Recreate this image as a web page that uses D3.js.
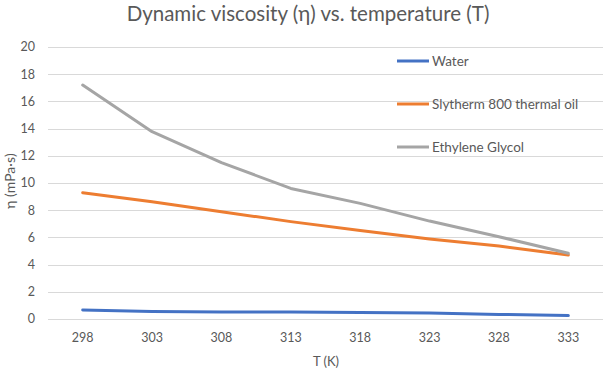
<!DOCTYPE html>
<html>
<head>
<meta charset="utf-8">
<script src="https://cdn.jsdelivr.net/npm/d3@7"></script>
<style>
  body { margin: 0; background: #fff; }
  text { font-family: Lato, "Open Sans", sans-serif; fill: #595959; }
</style>
</head>
<body>
<div id="chart"></div>
<script>
var temps = [298, 303, 308, 313, 318, 323, 328, 333];
var water = [0.66, 0.56, 0.51, 0.52, 0.47, 0.44, 0.34, 0.25];
var slytherm = [9.29, 8.62, 7.89, 7.16, 6.5, 5.88, 5.37, 4.7];
var glycol = [17.2, 13.77, 11.5, 9.6, 8.5, 7.2, 6.05, 4.83];
var yTicks = [0, 2, 4, 6, 8, 10, 12, 14, 16, 18, 20];

var series = [
  {name: "Water", values: water, color: "#4472C4"},
  {name: "Slytherm 800 thermal oil", values: slytherm, color: "#ED7D31"},
  {name: "Ethylene Glycol", values: glycol, color: "#A5A5A5"}
];

var width = 606, height = 371;
var margin = {top: 47, right: 3, bottom: 52, left: 48};
var w = width - margin.left - margin.right,
    h = height - margin.top - margin.bottom;

var svg = d3.select("#chart").append("svg")
    .attr("width", width)
    .attr("height", height);

var g = svg.append("g")
    .attr("transform", "translate(" + margin.left + "," + margin.top + ")");

var x = d3.scaleBand()
    .domain(temps)
    .range([0, w]);

var y = d3.scaleLinear()
    .domain([0, 20])
    .range([h, 0]);

// gridlines
g.append("g")
    .selectAll("line")
    .data(yTicks)
    .enter().append("line")
    .attr("x1", 0)
    .attr("x2", w)
    .attr("y1", function(d) { return Math.round(y(d)) + 0.5; })
    .attr("y2", function(d) { return Math.round(y(d)) + 0.5; })
    .attr("stroke", "#d9d9d9")
    .attr("stroke-width", 1);

// y labels
g.append("g")
    .selectAll("text")
    .data(yTicks)
    .enter().append("text")
    .attr("x", -13)
    .attr("y", function(d) { return y(d); })
    .attr("dy", "0.35em")
    .attr("text-anchor", "end")
    .style("font-size", "12.5px")
    .text(function(d) { return d; });

// x labels
g.append("g")
    .selectAll("text")
    .data(temps)
    .enter().append("text")
    .attr("x", function(d) { return x(d) + x.bandwidth() / 2; })
    .attr("y", h + 19)
    .attr("dy", "0.35em")
    .attr("text-anchor", "middle")
    .style("font-size", "12.5px")
    .text(function(d) { return d; });

var line = d3.line()
    .x(function(d, i) { return x(temps[i]) + x.bandwidth() / 2; })
    .y(function(d) { return y(d); });

g.append("g")
    .selectAll("path")
    .data(series)
    .enter().append("path")
    .attr("d", function(s) { return line(s.values); })
    .attr("fill", "none")
    .attr("stroke", function(s) { return s.color; })
    .attr("stroke-width", 3)
    .attr("stroke-linejoin", "round")
    .attr("stroke-linecap", "round");

// legend
var legend = svg.append("g")
    .selectAll("g")
    .data(series)
    .enter().append("g")
    .attr("transform", function(d, i) { return "translate(397," + (61 + i * 43) + ")"; });

legend.append("line")
    .attr("x1", 0)
    .attr("x2", 32)
    .attr("stroke", function(d) { return d.color; })
    .attr("stroke-width", 3);

legend.append("text")
    .attr("x", 35)
    .attr("dy", "0.35em")
    .style("font-size", "13.5px")
    .text(function(d) { return d.name; });

// titles
svg.append("text")
    .attr("x", 308)
    .attr("y", 21)
    .attr("text-anchor", "middle")
    .style("font-size", "20.5px")
    .text("Dynamic viscosity (η) vs. temperature (T)");

svg.append("text")
    .attr("x", 326)
    .attr("y", 366)
    .attr("text-anchor", "middle")
    .style("font-size", "13px")
    .text("T (K)");

svg.append("text")
    .attr("transform", "translate(15,181) rotate(-90)")
    .attr("text-anchor", "middle")
    .style("font-size", "14px")
    .text("η (mPa·s)");
</script>
</body>
</html>
